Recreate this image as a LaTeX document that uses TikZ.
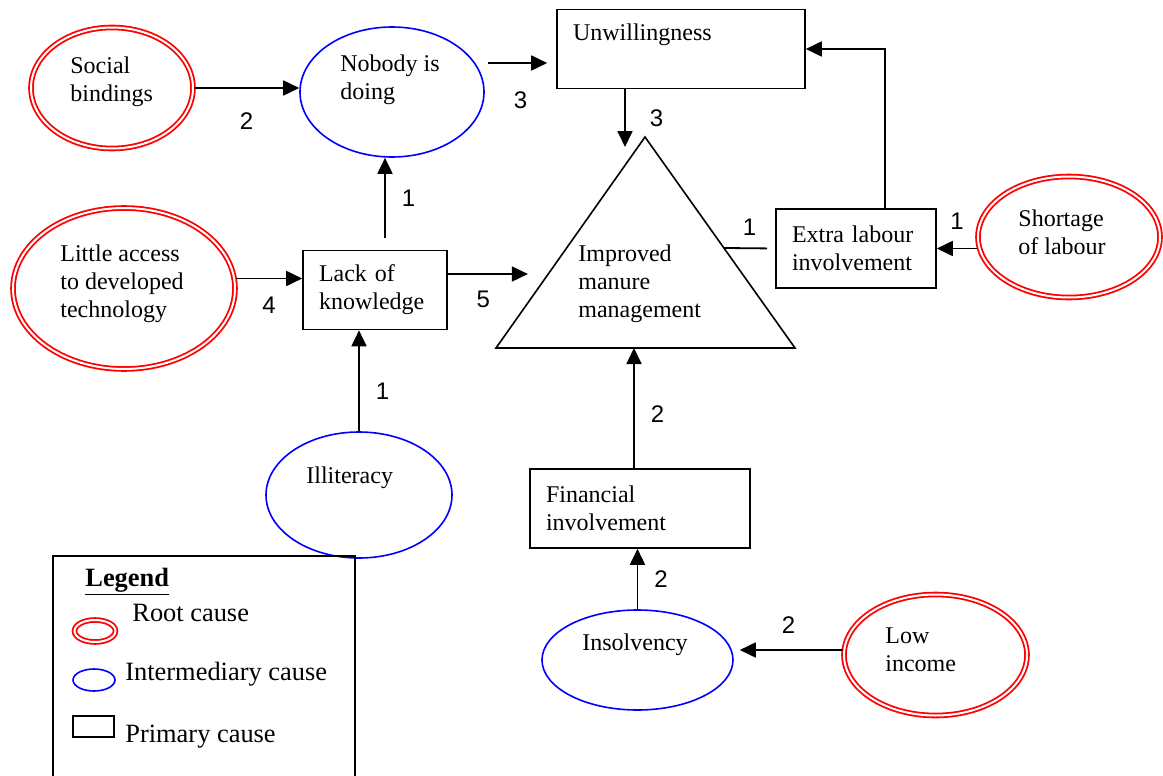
\documentclass[tikz,border=0pt]{standalone}
\usepackage{fontspec}
\setmainfont{Liberation Serif}
\setsansfont{Liberation Sans}
\usetikzlibrary{positioning, arrows.meta, shapes.geometric, calc}

\begin{document}
\begin{tikzpicture}[x=0.5pt, y=-0.5pt, font=\fontsize{12}{14}\selectfont,
    root/.style={ellipse, draw=red, line width=0.9pt, double=white, double distance=1pt, inner sep=0pt},
    mid/.style={ellipse, draw=blue, line width=0.8pt, inner sep=0pt},
    prim/.style={rectangle, draw, line width=0.8pt, align=left, inner xsep=8pt, minimum height=39.5pt},
    txt/.style={align=left, inner sep=0pt, anchor=west},
    legtxt/.style={txt, font=\fontsize{13.2}{15}\selectfont},
    arr/.style={-{Triangle[length=8pt, width=7.5pt]}, line width=0.9pt},
    num/.style={font=\sffamily\fontsize{12}{14}\selectfont, inner sep=0pt}]
  \useasboundingbox (0,0) rectangle (1163,776);

  % causes
  \node[root, minimum width=81pt, minimum height=60.5pt] (soc) at (112,88) {};
  \node[txt] (soc-t) at (70,82) {Social\\bindings};
  \node[mid, minimum width=92pt, minimum height=65pt] (nob) at (392,92) {};
  \node[txt] (nob-t) at (340,80) {Nobody is\\doing};
  \node[root, minimum width=111pt, minimum height=80.5pt] (lit) at (124,288.5) {};
  \node[txt] (lit-t) at (60,283.5) {Little access\\to developed\\technology};
  \node[root, minimum width=91pt, minimum height=60.5pt] (sho) at (1069,237) {};
  \node[txt] (sho-t) at (1018,232) {Shortage\\of labour};
  \node[root, minimum width=91.5pt, minimum height=60.5pt] (low) at (935.5,655) {};
  \node[txt] (low-t) at (885,650) {Low\\income};
  \node[mid, minimum width=93pt, minimum height=63pt] (ill) at (359,495) {};
  \node[txt] (ill-t) at (306,478) {Illiteracy};
  \node[mid, minimum width=95.5pt, minimum height=50pt] (ins) at (637.5,660) {};
  \node[txt] (ins-t) at (582,645) {Insolvency};

  \node[prim, text width=108pt, text depth=17pt] (unw) at (681,49) {Unwillingness};
  \node[prim, text width=56pt] (lack) at (375,290) {Lack of\\knowledge};
  \node[prim, text width=64pt] (ext) at (856,248.5) {Extra labour\\involvement};
  \node[prim, text width=94pt] (fin) at (640,508.5) {Financial\\involvement};

  % problem
  \coordinate (apex) at (645,137);
  \coordinate (bR) at (795,348);
  \coordinate (bL) at (496,348);
  \coordinate (tl) at ($(apex)!0.645!(bL)$);
  \coordinate (tr) at ($(apex)!0.526!(bR)$);
  \draw[line width=0.8pt] (apex) -- (bR) -- (bL) -- cycle;
  \node[txt] (imm) at (578,284) {Improved\\manure\\management};

  % links
  \draw[arr] (soc.east) -- (soc.east -| nob.west) node[num, midway, below=12pt] (n1) {2};
  \draw[arr, shorten <=1.5pt, shorten >=4.5pt] ([yshift=-7pt]unw.west -| nob.east) -- ([yshift=-7pt]unw.west)
    node[num, midway, below=14pt] (n2) {3};
  \draw[arr] ([xshift=-28pt]unw.south) -- ([xshift=-28pt, yshift=-5pt]unw.south |- apex)
    node[num, midway, right=12pt] (n3) {3};
  \draw[line width=0.9pt, shorten <=4pt] (ext.west) -- (tr) node[num, midway, above=6pt] (n4) {1};
  \draw[arr] ([xshift=14.5pt]ext.north) |- (unw.east);
  \draw[arr] (sho.west |- ext.east) -- (ext.east) node[num, midway, above=9pt] (n5) {1};
  \draw[arr] ([yshift=5pt]lit.east) -- ([yshift=5pt]lit.east -| lack.west) node[num, midway, below=9pt] (n6) {4};
  \draw[arr] ([xshift=5pt, yshift=6pt]lack.north) -- ([xshift=5pt]lack.north |- nob.south)
    node[num, midway, right=8pt] (n7) {1};
  \draw[arr, shorten >=10.5pt] ([yshift=8pt]lack.east) -- ([yshift=8pt]lack.east -| tl)
    node[num, pos=0.35, below=8pt] (n8) {5};
  \draw[arr] (ill.north) -- (ill.north |- lack.south) node[num, pos=0.4, right=8pt] (n9) {1};
  \draw[arr] ([xshift=-3pt]fin.north) -- ([xshift=-3pt]fin.north |- bL) node[num, pos=0.45, right=8pt] (n10) {2};
  \draw[arr] (ins.north) -- (ins.north |- fin.south) node[num, midway, right=8pt] (n11) {2};
  \draw[arr, shorten >=3pt] ([yshift=2.5pt]low.west) -- ([yshift=2.5pt]low.west -| ins.east)
    node[num, midway, above=8pt] (n12) {2};

  % legend
  \draw[line width=0.8pt] (53,556) rectangle (355,800);
  \node[legtxt] (leg) at (85,582) {\bfseries\underline{Legend}};
  \node[root, minimum width=20.5pt, minimum height=11pt] (leg-r) at (95,631) {};
  \node[legtxt] (leg-rt) at (132,613) {Root cause};
  \node[mid, minimum width=21pt, minimum height=11pt] (leg-m) at (94,680) {};
  \node[legtxt] (leg-mt) at (125,674) {Intermediary cause};
  \node[draw, line width=0.8pt, minimum width=20.5pt, minimum height=10.5pt, inner sep=0pt] (leg-p) at (93.5,726.5) {};
  \node[legtxt] (leg-pt) at (125,737) {Primary cause};
\end{tikzpicture}
\end{document}
